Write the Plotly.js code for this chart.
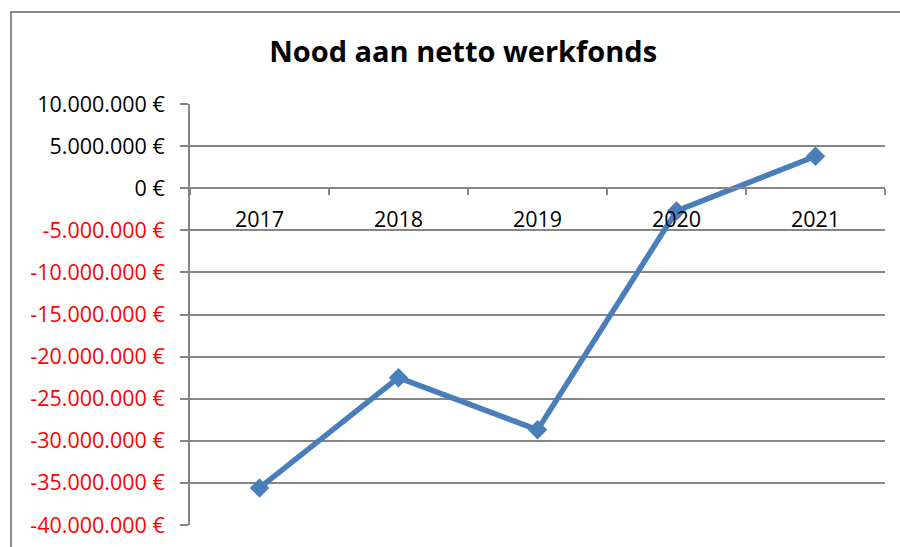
<!DOCTYPE html>
<html>
<head>
<meta charset="utf-8">
<script src="https://cdn.plot.ly/plotly-3.0.1.min.js"></script>
<style>
html,body{margin:0;padding:0;background:#fff;overflow:hidden;}
#chart{width:900px;height:547px;position:relative;}
#frame{position:absolute;left:10px;top:11px;width:1000px;height:1000px;border-left:2px solid #8a8a8a;border-top:2px solid #8a8a8a;pointer-events:none;}
</style>
</head>
<body>
<div id="chart"></div>
<div id="frame"></div>
<script>
const categories = ["2017", "2018", "2019", "2020", "2021"];
const values = [-35600000, -22500000, -28700000, -2700000, 3800000];
const yTickValues = [10000000, 5000000, 0, -5000000, -10000000, -15000000, -20000000, -25000000, -30000000, -35000000, -40000000];
const yTickLabels = ["10.000.000 €", "5.000.000 €", "0 €", "-5.000.000 €", "-10.000.000 €", "-15.000.000 €", "-20.000.000 €", "-25.000.000 €", "-30.000.000 €", "-35.000.000 €", "-40.000.000 €"];
const chartTitle = "Nood aan netto werkfonds";

const yMin = -40000000, yMax = 10000000;
const tickText = yTickLabels.map((t, i) => yTickValues[i] < 0 ? '<span style="color:#ff0000">' + t + '</span>' : t);
const fontFam = '"Open Sans", "Noto Sans", sans-serif';

const trace = {
  x: categories,
  y: values,
  type: 'scatter',
  mode: 'lines+markers',
  line: {color: '#4a7ebb', width: 5.5},
  marker: {symbol: 'diamond', size: 15, color: '#4a7ebb'},
  hoverinfo: 'skip'
};

const layout = {
  width: 900, height: 547,
  margin: {l: 190, r: 15, t: 104, b: 22, pad: 0},
  paper_bgcolor: '#ffffff',
  plot_bgcolor: '#ffffff',
  showlegend: false,
  font: {family: fontFam, size: 21.5, color: '#000'},
  title: {
    text: '<b>' + chartTitle + '</b>',
    font: {family: fontFam, size: 29, color: '#000'},
    x: 0.393, xanchor: 'center', xref: 'paper',
    y: 0.905, yanchor: 'middle', yref: 'container'
  },
  xaxis: {
    type: 'category',
    anchor: 'free',
    position: (0 - yMin) / (yMax - yMin),
    showline: true, linecolor: '#868686', linewidth: 2,
    ticks: 'outside', tickson: 'boundaries', ticklen: 6, tickcolor: '#868686', tickwidth: 2,
    ticklabelstandoff: 12,
    showgrid: false, zeroline: false,
    tickfont: {size: 21.5, color: '#000'},
    range: [-0.5, 4.5]
  },
  yaxis: {
    range: [yMin, yMax],
    tickvals: yTickValues,
    ticktext: tickText,
    showline: true, linecolor: '#868686', linewidth: 2,
    ticks: 'outside', ticklen: 8, tickcolor: '#868686', tickwidth: 2,
    ticklabelstandoff: 11,
    showgrid: true, gridcolor: '#868686', gridwidth: 2,
    zeroline: false,
    tickfont: {size: 21.5, color: '#000'}
  }
};

Plotly.newPlot('chart', [trace], layout, {displayModeBar: false, staticPlot: true});
</script>
</body>
</html>
